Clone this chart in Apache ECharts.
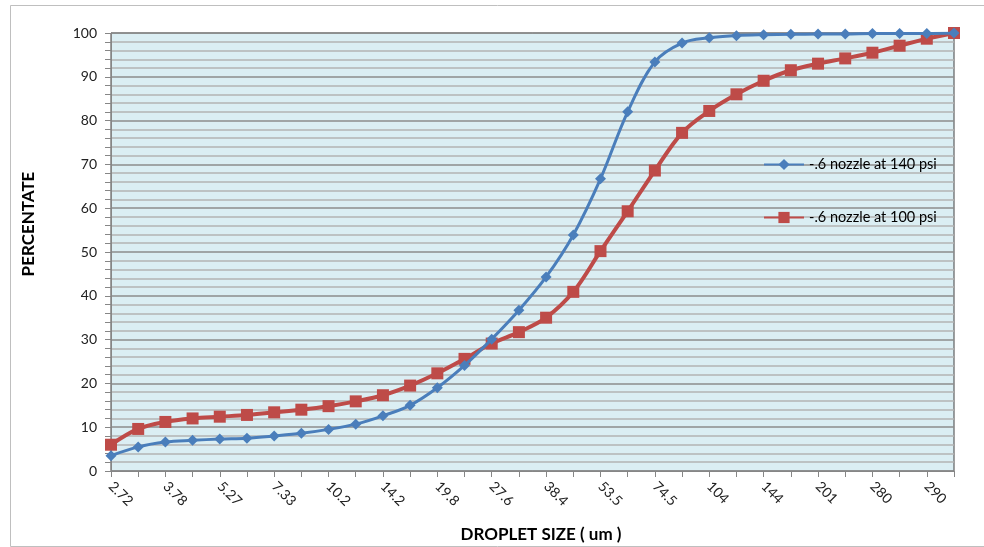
<!DOCTYPE html>
<html>
<head>
<meta charset="utf-8">
<script src="https://cdn.jsdelivr.net/npm/echarts@6/dist/echarts.min.js"></script>
<style>html,body{margin:0;padding:0;background:#fff;}#c{width:984px;height:547px;}</style>
</head>
<body>
<div id="c"></div>
<script>
const categories = ['2.72','3.2','3.78','4.46','5.27','6.21','7.33','8.65','10.2','12.1','14.2','16.8','19.8','23.4','27.6','32.6','38.4','45.3','53.5','63.1','74.5','87.9','104','123','144','170','201','237','280','285','290','300'];
const tickLabelShown = ['2.72','3.78','5.27','7.33','10.2','14.2','19.8','27.6','38.4','53.5','74.5','104','144','201','280','290'];
const seriesNames = ['-.6 nozzle at 140 psi', '-.6 nozzle at 100 psi'];
const blue = [3.5,5.5,6.6,7.0,7.3,7.5,8.0,8.6,9.5,10.7,12.6,15.0,19.0,24.1,30.1,36.7,44.3,53.9,66.7,82.0,93.4,97.7,98.9,99.4,99.6,99.7,99.8,99.8,99.9,99.9,99.9,100];
const red = [6.0,9.6,11.2,12.0,12.4,12.8,13.4,14.0,14.8,15.9,17.3,19.5,22.3,25.6,29.1,31.7,35.0,40.9,50.2,59.3,68.6,77.2,82.2,86.0,89.1,91.5,93.0,94.2,95.5,97.1,98.7,100];
const yTicks = [0,10,20,30,40,50,60,70,80,90,100];
const xTitle = 'DROPLET SIZE ( um )';
const yTitle = 'PERCENTATE';

const chart = echarts.init(document.getElementById('c'), null, {renderer:'canvas'});
const font = 'Lato, "Open Sans", "Liberation Sans", sans-serif';
chart.setOption({
  backgroundColor: '#ffffff',
  animation: false,
  graphic: [{
    type: 'rect', left: 8, top: 3, shape: {width: 974, height: 541},
    style: {fill: 'none', stroke: '#bfbfbf', lineWidth: 1}, silent: true, z: -10
  }, {
    type: 'text', x: 541, y: 535, silent: true,
    style: {text: xTitle, font: 'bold 17px ' + font, fill: '#000', textAlign: 'center', textVerticalAlign: 'middle'}
  }, {
    type: 'text', x: 29, y: 224, rotation: Math.PI / 2, silent: true,
    style: {text: yTitle, font: 'bold 17px ' + font, fill: '#000', textAlign: 'center', textVerticalAlign: 'middle'}
  }],
  grid: {
    left: 111, right: 30, top: 33, bottom: 76, show: true, containLabel: false,
    outerBoundsMode: 'none',
    backgroundColor: '#dbeef3', borderColor: '#404040', borderWidth: 1
  },
  legend: {
    orient: 'vertical', left: 763, top: 157, itemGap: 38, padding: 0,
    itemWidth: 40, itemHeight: 14,
    textStyle: {fontFamily: font, fontSize: 14.5, color: '#000', lineHeight: 14},
    data: seriesNames
  },
  xAxis: {
    type: 'category', data: categories, boundaryGap: false,
    axisLine: {lineStyle: {color: '#868686', width: 1}},
    axisTick: {show: true, interval: 0, length: 6, lineStyle: {color: '#868686'}},
    axisLabel: {
      interval: 0, rotate: -45, margin: 13, fontFamily: font, fontSize: 14, color: '#222',
      formatter: function (v, i) { return (i % 2 === 0 && tickLabelShown.indexOf(v) >= 0) ? v : ''; }
    },
    splitLine: {show: false}
  },
  yAxis: {
    type: 'value', min: 0, max: 100, interval: 10,
    axisLine: {show: true, lineStyle: {color: '#868686', width: 1}},
    axisTick: {show: true, length: 6, lineStyle: {color: '#868686'}},
    minorTick: {show: true, splitNumber: 5, length: 6, lineStyle: {color: '#868686'}},
    axisLabel: {fontFamily: font, fontSize: 14, color: '#222', margin: 14,
      formatter: function (v) { return yTicks.indexOf(v) >= 0 ? String(v) : ''; }},
    splitLine: {show: true, lineStyle: {color: '#8c8c8c', width: 1.5}},
    minorSplitLine: {show: true, lineStyle: {color: '#b4b4b4', width: 1.5}}
  },
  series: [{
    name: seriesNames[0], type: 'line', data: blue, smooth: 0.35,
    symbol: 'diamond', symbolSize: 11,
    lineStyle: {color: '#4a7ebb', width: 3},
    itemStyle: {color: '#4a7ebb'}, z: 3
  }, {
    name: seriesNames[1], type: 'line', data: red, smooth: 0.35,
    symbol: 'rect', symbolSize: 12,
    lineStyle: {color: '#be4b48', width: 4},
    itemStyle: {color: '#be4b48'}, z: 2
  }]
});
</script>
</body>
</html>
